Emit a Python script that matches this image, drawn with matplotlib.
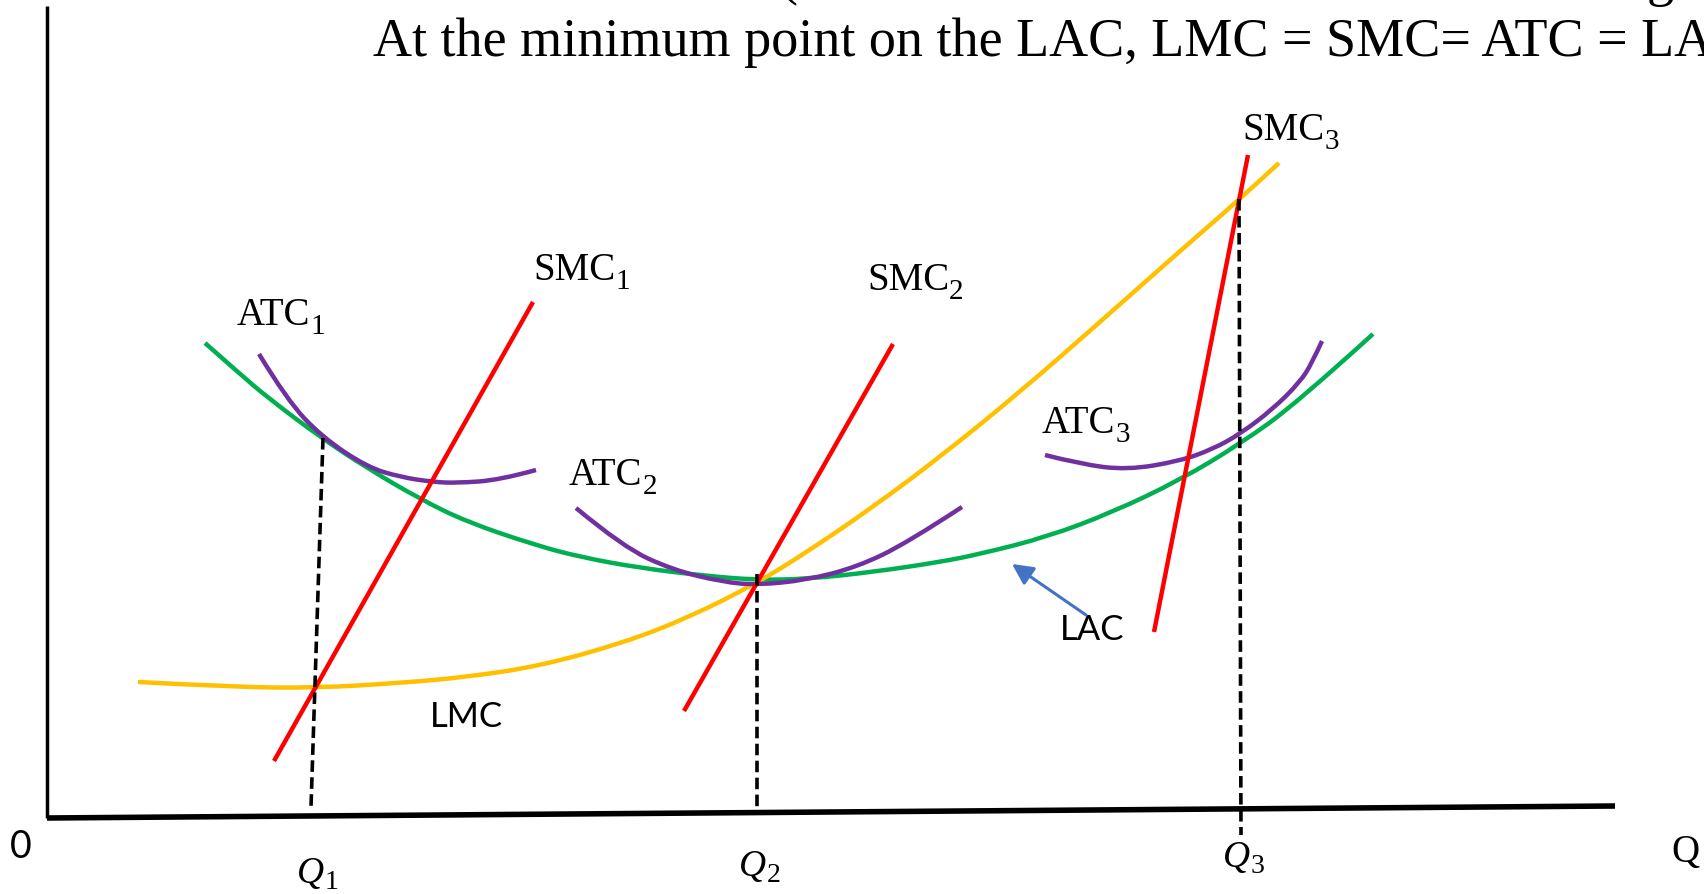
import matplotlib
matplotlib.use("Agg")
import matplotlib.pyplot as plt
from matplotlib.path import Path
from matplotlib.patches import PathPatch

# ---------------- data (quantity, cost) ----------------
lac_q = [158, 193, 220, 273, 320, 373, 420, 488, 533, 593, 660, 710, 760, 826,
         893, 933, 1000, 1066, 1133, 1193, 1250, 1326]
lac_c = [475, 444, 421, 381, 350, 319, 296, 273, 261, 250, 242, 238, 239, 246,
         256, 264, 281, 306, 338, 374, 415, 484]

lmc_q = [91, 186, 268, 353, 420, 493, 576, 643, 710, 760, 826, 893, 973, 1053,
         1133, 1193, 1232]
lmc_c = [136, 131, 130, 135, 141, 152, 175, 201, 235, 266, 311, 361, 426, 496,
         567, 619, 655]

atc1_q = [212, 240, 275, 320, 353, 386, 410, 453, 489]
atc1_c = [464, 418, 381, 351, 341, 336, 335, 338, 348]

atc2_q = [529, 576, 626, 676, 710, 760, 810, 860, 915]
atc2_c = [310, 271, 248, 236, 233, 238, 251, 275, 311]

atc3_q = [998, 1033, 1080, 1133, 1166, 1193, 1226, 1253, 1265, 1275]
atc3_c = [363, 354, 348, 357, 369, 384, 409, 436, 455, 477]

smc1_q = [227, 486]
smc1_c = [57, 516]
smc2_q = [637, 846]
smc2_c = [107, 474]
smc3_q = [1107, 1201]
smc3_c = [186, 663]

q1_q = [276, 264]
q1_c = [380, 11]
q2_q = [710, 710]
q2_c = [244, 11]
q3_q = [1192, 1194]
q3_c = [619, -17]

yaxis_q = [0, 0]
yaxis_c = [0, 812]
xaxis_q = [0, 1568]
xaxis_c = [0, 12]

arrow_tail = (1039, 203)
arrow_head = (965, 254)

title_text = "At the minimum point on the LAC, LMC = SMC= ATC = LAC"
curve_names = ["ATC", "ATC", "ATC", "SMC", "SMC", "SMC"]
curve_subs = ["1", "2", "3", "1", "2", "3"]
q_subs = ["1", "2", "3"]

# ---------------- colours ----------------
GREEN = "#00B050"
GOLD = "#FFC000"
PURPLE = "#7030A0"
RED = "#FF0000"
BLUE = "#4472C4"

fig = plt.figure(figsize=(17.04, 8.94), dpi=100)
ax = fig.add_axes([0, 0, 1, 1])
ax.set_xlim(-47, 1657)
ax.set_ylim(-76, 818)
ax.axis("off")


def smooth_curve(qs, cs, color, lw, z):
    """Draw a smooth quadratic B-spline with the read points as control points."""
    pts = list(zip(qs, cs))
    verts = [pts[0]]
    codes = [Path.MOVETO]
    n = len(pts)
    for i in range(1, n - 1):
        if i < n - 2:
            end = ((pts[i][0] + pts[i + 1][0]) / 2, (pts[i][1] + pts[i + 1][1]) / 2)
        else:
            end = pts[n - 1]
        verts += [pts[i], end]
        codes += [Path.CURVE3, Path.CURVE3]
    patch = PathPatch(Path(verts, codes), facecolor="none", edgecolor=color,
                      lw=lw, zorder=z, capstyle="butt")
    ax.add_patch(patch)


lw = 3.2
smooth_curve(lac_q, lac_c, GREEN, lw, 2)
smooth_curve(lmc_q, lmc_c, GOLD, lw, 3)
for q, c in [(atc1_q, atc1_c), (atc2_q, atc2_c), (atc3_q, atc3_c)]:
    smooth_curve(q, c, PURPLE, lw, 4)
for q, c in [(smc1_q, smc1_c), (smc2_q, smc2_c), (smc3_q, smc3_c)]:
    ax.plot(q, c, color=RED, lw=lw, zorder=5, solid_capstyle="butt")
for q, c in [(q1_q, q1_c), (q2_q, q2_c), (q3_q, q3_c)]:
    ax.plot(q, c, color="black", lw=2.6, dashes=(3.2, 1.5), zorder=6,
            dash_capstyle="butt")

ax.plot(yaxis_q, yaxis_c, color="black", lw=2.5, zorder=7, solid_capstyle="butt")
ax.plot(xaxis_q, xaxis_c, color="black", lw=4.0, zorder=7, solid_capstyle="butt")

ax.annotate("", xy=arrow_head, xytext=arrow_tail,
            arrowprops=dict(arrowstyle="-|>,head_length=0.7,head_width=0.35",
                            color=BLUE, lw=2.2, shrinkA=0, shrinkB=0,
                            mutation_scale=18), zorder=8)

# ---------------- text ----------------
serif = "Liberation Serif"
ax.text(326, 762, title_text, fontsize=39, family=serif, ha="left", va="baseline")
# fragments of the line above (cut off at the top edge)
ax.text(733, 824, "(", fontsize=39, family=serif, ha="left", va="baseline")
ax.text(1600, 823, "g", fontsize=39, family=serif, ha="left", va="baseline")


def sub_label(q, c, main, sub, size, subsize, style="normal", drop=-4.0, gap=0.0):
    t = ax.text(q, c, main, fontsize=size, family=serif, style=style,
                ha="left", va="baseline", zorder=9)
    ax.annotate(sub, xy=(1, 0), xycoords=t, xytext=(gap, drop),
                textcoords="offset points", fontsize=subsize, family=serif,
                ha="left", va="bottom", zorder=9)


label_pos = [(190, 493), (522, 333), (995, 385), (486, 538), (820, 528), (1195, 678)]
for name, sub, (q, c) in zip(curve_names, curve_subs, label_pos):
    sub_label(q, c, name, sub, 28, 21)

sans = "Lato"
ax.text(1013, 178, "LAC", fontsize=25, family=sans, ha="left", va="baseline")
ax.text(383, 91, "LMC", fontsize=25, family=sans, ha="left", va="baseline")
ax.text(-37, -40, "0", fontsize=27, family=sans, ha="left", va="baseline")

q_pos = [(250, -65), (692, -58), (1176, -49)]
for sub, (q, c) in zip(q_subs, q_pos):
    sub_label(q, c, "Q", sub, 27, 20, style="italic", drop=-3.0, gap=0.5)
ax.text(1624, -44, "Q", fontsize=28, family=serif, ha="left", va="baseline")

fig.savefig("out.png", dpi=100)
